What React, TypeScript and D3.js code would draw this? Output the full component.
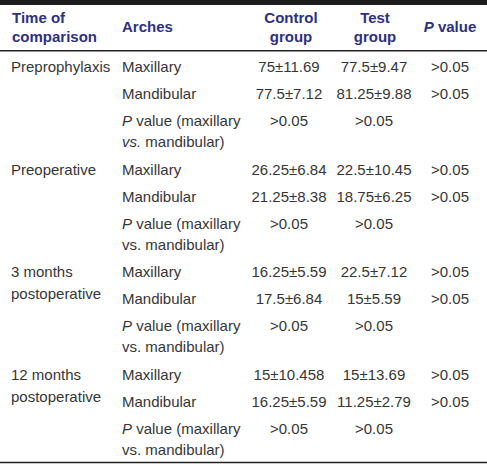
import React from "react";
import * as d3 from "d3";

const headers = [["Time of", "comparison"], ["Arches"], ["Control", "group"], ["Test", "group"], ["P value"]];
const timePoints = [["Preprophylaxis"], ["Preoperative"], ["3 months", "postoperative"], ["12 months", "postoperative"]];
const archRows = ["Maxillary", "Mandibular", "P value (maxillary vs. mandibular)"];
const vsItalic = [true, false, false, false];
const controlGroup = [
  ["75±11.69", "77.5±7.12", ">0.05"],
  ["26.25±6.84", "21.25±8.38", ">0.05"],
  ["16.25±5.59", "17.5±6.84", ">0.05"],
  ["15±10.458", "16.25±5.59", ">0.05"],
];
const testGroup = [
  ["77.5±9.47", "81.25±9.88", ">0.05"],
  ["22.5±10.45", "18.75±6.25", ">0.05"],
  ["22.5±7.12", "15±5.59", ">0.05"],
  ["15±13.69", "11.25±2.79", ">0.05"],
];
const pValues = [
  [">0.05", ">0.05", ""],
  [">0.05", ">0.05", ""],
  [">0.05", ">0.05", ""],
  [">0.05", ">0.05", ""],
];

const W = 487;
const H = 464;
const FONT = "'Liberation Sans', Arial, Helvetica, sans-serif";
const HEAD_COLOR = "#2e3081";
const BODY_COLOR = "#363636";

export default function App() {
  const groupY = d3.scaleLinear().domain([0, 3]).range([72, 380]);
  const rowOffset = [0, 27, 54];
  const lineH = 21;

  const colLeft = { time: 11, arch: 122 };
  const colCenter = { control: 289, test: 374, p: 450 };
  const headX = [12, 122, 291, 375, 450];
  const headAnchor = ["start", "start", "middle", "middle", "middle"];

  return (
    <svg width={W} height={H} style={{ position: "absolute", left: 0, top: 0, background: "#fff" }} fontFamily={FONT}>
      <rect x={0} y={0} width={W} height={5} fill="#1c1c1c" />
      {headers.map((lines, i) => (
        <text key={i} x={headX[i]} textAnchor={headAnchor[i] as any} fill={HEAD_COLOR} fontSize={15} fontWeight="bold">
          {lines.length === 1 ? (
            <tspan x={headX[i]} y={32}>
              {lines[0].startsWith("P ") ? (
                <>
                  <tspan fontStyle="italic">P</tspan>
                  {lines[0].slice(1)}
                </>
              ) : (
                lines[0]
              )}
            </tspan>
          ) : (
            lines.map((l, j) => (
              <tspan key={j} x={headX[i]} y={23 + j * 19}>
                {l}
              </tspan>
            ))
          )}
        </text>
      ))}
      <line x1={0} x2={W} y1={50.75} y2={50.75} stroke="#222" strokeWidth={1.5} />
      {timePoints.map((tp, g) => {
        const base = groupY(g);
        return (
          <g key={g} fontSize={15} fill={BODY_COLOR}>
            {tp.map((l, j) => (
              <text key={j} x={colLeft.time} y={base + j * 22}>
                {l}
              </text>
            ))}
            {archRows.map((a, r) => {
              const y = base + rowOffset[r];
              return (
                <g key={r}>
                  {r < 2 ? (
                    <text x={colLeft.arch} y={y}>{a}</text>
                  ) : (
                    <text x={colLeft.arch} y={y}>
                      <tspan fontStyle="italic">P</tspan>
                      <tspan> value (maxillary</tspan>
                      <tspan x={colLeft.arch} y={y + lineH} fontStyle={vsItalic[g] ? "italic" : "normal"}>vs.</tspan>
                      <tspan> mandibular)</tspan>
                    </text>
                  )}
                  <text x={colCenter.control} y={y} textAnchor="middle">{controlGroup[g][r]}</text>
                  <text x={colCenter.test} y={y} textAnchor="middle">{testGroup[g][r]}</text>
                  {pValues[g][r] && (
                    <text x={colCenter.p} y={y} textAnchor="middle">{pValues[g][r]}</text>
                  )}
                </g>
              );
            })}
          </g>
        );
      })}
      <line x1={0} x2={W} y1={462.5} y2={462.5} stroke="#222" strokeWidth={1.5} />
    </svg>
  );
}
